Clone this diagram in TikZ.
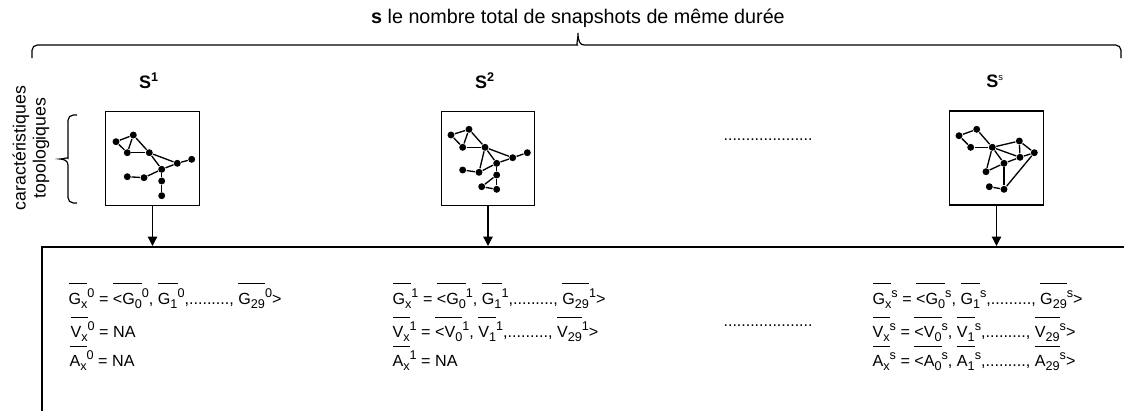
\documentclass[tikz,border=0pt]{standalone}
\usepackage{fontspec}
\setmainfont{Liberation Sans}
\usetikzlibrary{arrows.meta}
\newcommand{\ovl}[1]{\leavevmode\vbox{\hrule height 0.8pt\kern 6.2pt\hbox{#1}}}
\newcommand{\mysub}[1]{\raisebox{-0.28em}{\fontsize{9.5}{10}\selectfont #1}}
\newcommand{\mysup}[1]{\raisebox{0.42em}{\fontsize{9.5}{10}\selectfont #1}}
\begin{document}
\begin{tikzpicture}[x=0.75pt,y=-0.75pt,
  line width=0.9pt,
  snapbox/.style={draw, minimum width=70pt, minimum height=70.5pt, inner sep=0},
  gdot/.style={circle, fill=black, inner sep=0, minimum size=5.2pt},
  gedge/.style={line width=1pt},
  arr/.style={-{Triangle[length=7pt,width=7pt]}},
  row/.style={anchor=base west, inner sep=0, font=\fontsize{12.1}{14}\selectfont},
  lbl/.style={font=\fontsize{13.5}{15}\selectfont\bfseries, inner sep=0},
  dotsrow/.style={font=\fontsize{12}{14}\selectfont, inner sep=0}
]
\useasboundingbox (0,0) rectangle (1124,411);

% title and top brace
\node[font=\fontsize{14.8}{16}\selectfont, inner sep=0] (title) at (578,18) {\textbf{s} le nombre total de snapshots de même durée};
\draw (32,58) [rounded corners=4pt] |- (572,45) [sharp corners] .. controls (576,45) and (578,41) .. (578,33) .. controls (578,41) and (580,45) .. (584,45) [rounded corners=4pt] -| (1121,58);

% left brace and text
\node[rotate=90, align=center, font=\fontsize{13.3}{15}\selectfont, inner sep=0] (topo) at (31,148) {caractéristiques\\topologiques};
\draw (77,115) [rounded corners=4pt] -| (68,153) [sharp corners] .. controls (68,157) and (64,159) .. (60,159) .. controls (64,159) and (68,161) .. (68,165) [rounded corners=4pt] |- (77,203);

% snapshot labels
\node[lbl] (l1) at (149,81) {S\textsuperscript{1}};
\node[lbl] (l2) at (485,81) {S\textsuperscript{2}};
\node[lbl] (l3) at (995,81) {S\textsuperscript{\mdseries\scriptsize s}};

% boxes
\node[snapbox] (b1) at (152.5,158.5) {};
\node[snapbox] (b2) at (488,158.5) {};
\node[snapbox] (b3) at (996.5,158) {};

% big box
\coordinate (bbR) at (1124,247);
\coordinate (bbC) at (42,247);
\coordinate (bbB) at (42,411);
\draw (bbR) -- (bbC) -- (bbB);
\coordinate (t1) at (152.5,246);
\coordinate (t2) at (488,246);
\coordinate (t3) at (996.5,246);
\draw[arr] (b1.south) -- (t1);
\draw[arr] (b2.south) -- (t2);
\draw[arr] (b3.south) -- (t3);

% graph 1
\foreach \n/\x/\y in {a/116/141.7, b/133.3/135, c/127.3/152.7, d/149.3/152.7, e/177.3/163.3, f/191.7/159.3, g/161.7/169.3, h/127.3/176.7, i/144/177.7, j/161.7/181, k/161.7/195.7}
  \node[gdot] (g1\n) at (\x,\y) {};
\foreach \u/\v in {a/b, a/c, b/c, b/d, c/d, d/e, d/g, g/e, e/f, g/i, i/h, g/j, j/k}
  \draw[gedge] (g1\u) -- (g1\v);

% graph 2
\foreach \n/\x/\y in {a/451/135, b/469/129.3, c/462.7/147.3, d/485/147.3, e/512.7/157.7, f/527.3/152.7, g/496.7/163.3, h/462.7/170, i/479/172.3, j/496.7/175, k/481.7/186.7, l/496.7/189.3}
  \node[gdot] (g2\n) at (\x,\y) {};
\foreach \u/\v in {a/b, a/c, b/c, b/d, c/d, d/e, d/g, d/i, g/e, e/f, g/i, i/h, g/j, j/k, j/l, k/l}
  \draw[gedge] (g2\u) -- (g2\v);

% graph 3
\foreach \n/\x/\y in {a/959/135.7, b/976.7/129.3, c/970.7/147.3, d/992.3/147.3, e/1019.3/141, f/1034.3/152.7, g/1020/157.3, h/1004/163.3, i/986/171.7, j/989.3/186.7, k/1004/189.3}
  \node[gdot] (g3\n) at (\x,\y) {};
\foreach \u/\v in {a/b, a/c, c/d, b/d, d/e, d/g, d/h, d/i, e/g, e/f, g/f, h/g, h/i, h/k, j/k, k/f}
  \draw[gedge] (g3\u) -- (g3\v);

% dots
\node[dotsrow, anchor=west] (dt) at (723,140) {....................};
\node[dotsrow, anchor=west] (db) at (723,326) {....................};

% column 1
\node[row] (c1r1) at (68,304) {\ovl{G\mysub{x}}\mysup{0} = \ovl{<G\mysub{0}}\mysup{0}, \ovl{G\mysub{1}}\mysup{0},........., \ovl{G\mysub{29}}\mysup{0}>};
\node[row] (c1r2) at (70,337) {\ovl{V\mysub{x}}\mysup{0} = NA};
\node[row] (c1r3) at (69,366) {\ovl{A\mysub{x}}\mysup{0} = NA};

% column 2
\node[row] (c2r1) at (392,304) {\ovl{G\mysub{x}}\mysup{1} = \ovl{<G\mysub{0}}\mysup{1}, \ovl{G\mysub{1}}\mysup{1},........., \ovl{G\mysub{29}}\mysup{1}>};
\node[row] (c2r2) at (392,337) {\ovl{V\mysub{x}}\mysup{1} = \ovl{<V\mysub{0}}\mysup{1}, \ovl{V\mysub{1}}\mysup{1},........., \ovl{V\mysub{29}}\mysup{1}>};
\node[row] (c2r3) at (392,366) {\ovl{A\mysub{x}}\mysup{1} = NA};

% column 3
\node[row] (c3r1) at (872,304) {\ovl{G\mysub{x}}\mysup{s} = \ovl{<G\mysub{0}}\mysup{s}, \ovl{G\mysub{1}}\mysup{s},........., \ovl{G\mysub{29}}\mysup{s}>};
\node[row] (c3r2) at (872,337) {\ovl{V\mysub{x}}\mysup{s} = \ovl{<V\mysub{0}}\mysup{s}, \ovl{V\mysub{1}}\mysup{s},........., \ovl{V\mysub{29}}\mysup{s}>};
\node[row] (c3r3) at (872,366) {\ovl{A\mysub{x}}\mysup{s} = \ovl{<A\mysub{0}}\mysup{s}, \ovl{A\mysub{1}}\mysup{s},........., \ovl{A\mysub{29}}\mysup{s}>};
\end{tikzpicture}
\end{document}
